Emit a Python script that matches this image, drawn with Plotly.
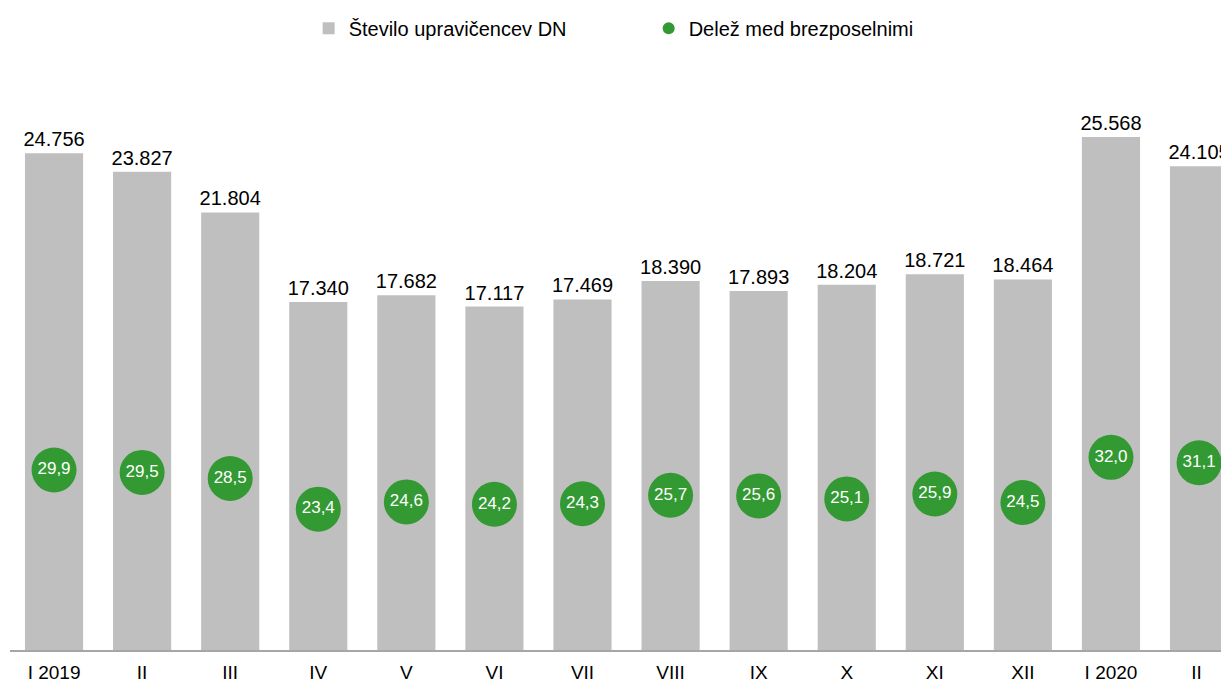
import plotly.graph_objects as go

categories = ["I 2019", "II", "III", "IV", "V", "VI", "VII", "VIII", "IX", "X", "XI", "XII", "I 2020", "II "]
upravicenci = [24756, 23827, 21804, 17340, 17682, 17117, 17469, 18390, 17893, 18204, 18721, 18464, 25568, 24105]
delez = [29.9, 29.5, 28.5, 23.4, 24.6, 24.2, 24.3, 25.7, 25.6, 25.1, 25.9, 24.5, 32.0, 31.1]

FONT = "Liberation Sans, Arial, sans-serif"

fig = go.Figure()
fig.add_trace(go.Bar(
    x=categories, y=upravicenci, name="Število upravičencev DN",
    marker=dict(color="#BFBFBF", line=dict(width=0)),
    text=upravicenci, texttemplate="%{y:,.0f}", textposition="outside",
    textfont=dict(family=FONT, size=20, color="#000000"),
    constraintext="none", cliponaxis=True,
))
fig.add_trace(go.Scatter(
    x=categories, y=delez, name="Delež med brezposelnimi", yaxis="y2",
    mode="markers+text",
    marker=dict(color="#339933", size=45, line=dict(width=0)),
    text=delez, texttemplate="%{y:.1f}", textposition="middle center",
    textfont=dict(family=FONT, size=17, color="#FFFFFF"),
    cliponaxis=True,
))

fig.update_layout(
    width=1221, height=674,
    margin=dict(l=2, r=0, t=40, b=32),
    paper_bgcolor="white", plot_bgcolor="white",
    separators=",.",
    font=dict(family=FONT, size=18, color="#000000"),
    bargap=0.34,
    showlegend=True,
    legend=dict(orientation="h", x=0.245, xanchor="left", y=1.033, yanchor="middle",
                font=dict(family=FONT, size=20), itemsizing="constant",
                traceorder="normal", itemwidth=30,
                entrywidth=295, entrywidthmode="pixels"),
    xaxis=dict(range=[-0.5, 13.34], showline=True, linecolor="#A6A6A6", linewidth=2,
               ticks="", showgrid=False, zeroline=False, ticklabelstandoff=4,
               automargin=False,
               tickfont=dict(family=FONT, size=19, color="#000000")),
    yaxis=dict(range=[0, 30000], visible=False, showgrid=False, zeroline=False),
    yaxis2=dict(range=[0, 100], overlaying="y", visible=False, showgrid=False, zeroline=False),
)

fig.write_html("out.html")
